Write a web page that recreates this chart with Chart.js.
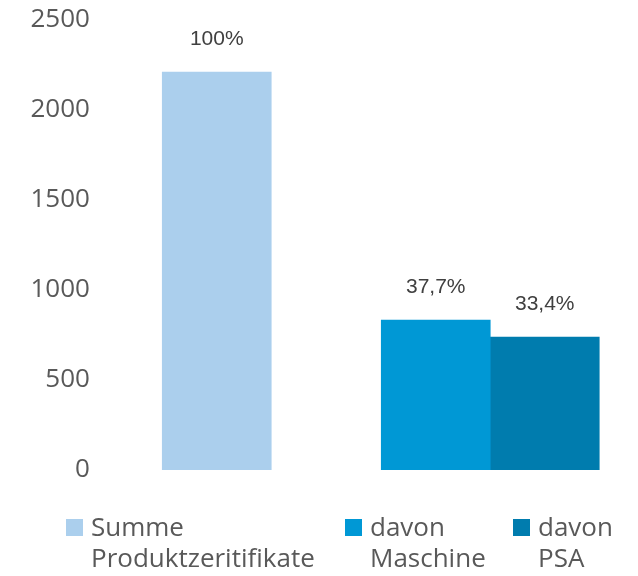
<!DOCTYPE html>
<html>
<head>
<meta charset="utf-8">
<script src="https://cdn.jsdelivr.net/npm/chart.js@4/dist/chart.umd.min.js"></script>
<style>
    html, body { margin: 0; padding: 0; background: #fff; }
    #wrap { position: relative; width: 638px; height: 576px; }
    #legend {
        position: absolute; left: 66px; top: 511px;
        display: flex;
        font-family: "Open Sans", sans-serif; font-size: 26px; line-height: 31px;
        color: #595959;
    }
    .item { display: flex; align-items: flex-start; }
    .box { width: 17px; height: 17px; margin-top: 8px; margin-right: 8px; flex: none; }
</style>
</head>
<body>
<div id="wrap">
    <canvas id="chart" width="638" height="576"></canvas>
    <div id="legend"></div>
</div>
<script>
// chart data
const categories = ['Summe', 'davon'];
const seriesNames = [['Summe', 'Produktzeritifikate'], ['davon', 'Maschine'], ['davon', 'PSA']];
const summeValues = [2210, null];
const maschineValues = [null, 833];
const psaValues = [null, 738];
const percentLabels = ['100%', '37,7%', '33,4%'];
const yTicks = [0, 500, 1000, 1500, 2000, 2500];
const colors = ['#abcfed', '#0098d5', '#007cae'];

// percent text above each bar
const barLabels = {
    id: 'barLabels',
    afterDatasetsDraw(chart) {
        const ctx = chart.ctx;
        ctx.save();
        ctx.font = '21px "Liberation Sans", Arial, sans-serif';
        ctx.fillStyle = '#404040';
        ctx.textAlign = 'center';
        ctx.textBaseline = 'middle';
        chart.data.datasets.forEach((ds, i) => {
            chart.getDatasetMeta(i).data.forEach((bar, j) => {
                if (ds.data[j] === null) return;
                ctx.fillText(percentLabels[i], bar.x, bar.y - 33);
            });
        });
        ctx.restore();
    }
};

const ctx = document.getElementById('chart').getContext('2d');
const chart = new Chart(ctx, {
    type: 'bar',
    data: {
        labels: categories,
        datasets: [summeValues, maschineValues, psaValues].map((values, i) => ({
            label: seriesNames[i].join(' '),
            data: values,
            backgroundColor: colors[i],
            borderWidth: 0
        }))
    },
    options: {
        responsive: false,
        animation: false,
        skipNull: true,
        barThickness: 109,
        layout: { padding: { top: 20, right: 11, bottom: 106, left: 0 } },
        plugins: {
            legend: { display: false },
            tooltip: { enabled: false }
        },
        scales: {
            x: { display: false, offset: true },
            y: {
                min: 0,
                max: 2500,
                afterFit: scale => { scale.width = 80; },
                afterBuildTicks: scale => { scale.ticks = yTicks.map(v => ({ value: v })); },
                grid: { display: false, drawTicks: false },
                border: { display: false },
                ticks: {
                    mirror: true,
                    crossAlign: 'far',
                    padding: -49.5,
                    color: '#595959',
                    font: { family: 'Open Sans', size: 26 },
                    callback: v => String(v)
                }
            }
        }
    },
    plugins: [barLabels]
});

// legend built from the datasets
const legend = document.getElementById('legend');
const itemWidths = [279, 168, null];
chart.data.datasets.forEach((ds, i) => {
    const item = document.createElement('div');
    item.className = 'item';
    if (itemWidths[i]) item.style.width = itemWidths[i] + 'px';
    const box = document.createElement('span');
    box.className = 'box';
    box.style.background = ds.backgroundColor;
    const text = document.createElement('span');
    text.innerHTML = seriesNames[i].join('<br>');
    item.appendChild(box);
    item.appendChild(text);
    legend.appendChild(item);
});
</script>
</body>
</html>
